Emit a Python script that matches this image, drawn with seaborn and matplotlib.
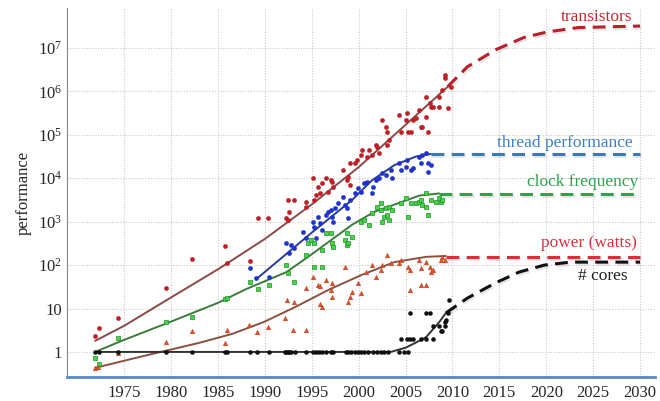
import numpy as np
import pandas as pd
import matplotlib
matplotlib.use('Agg')
import matplotlib.pyplot as plt
import matplotlib.patheffects as pe
from matplotlib.ticker import FixedLocator, FixedFormatter, LogLocator, NullFormatter
import seaborn as sns

# transistors (red dots)
tr_year = [1971.9, 1972.3, 1974.3, 1979.5, 1982.2, 1985.7, 1986.0, 1988.4, 1989.3, 1990.3,
           1992.2, 1992.5, 1992.6, 1992.5, 1993.1, 1994.4, 1994.4, 1995.1, 1995.2, 1995.4,
           1995.7, 1995.9, 1996.1, 1996.5, 1996.7, 1997.0, 1997.2, 1997.3, 1998.3, 1998.8,
           1998.9, 1999.1, 1999.1, 1999.6, 1999.8, 2000.3, 2000.4, 2000.9, 2001.1, 2001.4,
           2001.9, 2002.0, 2002.2, 2002.5, 2002.9, 2003.0, 2003.2, 2003.0, 2004.3, 2004.5,
           2005.0, 2005.1, 2005.3, 2005.6, 2005.8, 2006.1, 2006.4, 2006.6, 2006.7, 2007.2,
           2007.2, 2007.4, 2007.6, 2007.7, 2007.9, 2008.6, 2008.6, 2008.9, 2009.2, 2009.2,
           2009.5, 2009.8]
tr_val = [2.3, 3.5, 6, 30, 140, 275, 112, 126, 1230, 1230,
          1230, 1100, 1700, 3200, 3200, 2900, 2200, 10200, 3200, 4200,
          6300, 4600, 7800, 10200, 4900, 9100, 8300, 6300, 15500, 9100,
          10700, 7100, 22400, 22400, 26300, 34700, 44700, 30900, 44700, 34700,
          58900, 52500, 38900, 224000, 151000, 117000, 75900, 58900, 288000, 117000,
          224000, 324000, 117000, 117000, 224000, 245000, 380000, 151000, 151000, 759000,
          257000, 117000, 550000, 447000, 447000, 447000, 759000, 1100000, 2000000, 2400000,
          417000, 1290000]
tr_fit_year = [1971.9, 1975, 1980, 1985, 1990, 1995, 2000, 2005, 2009.7]
tr_fit_val = [1.8, 4, 18, 80, 400, 2500, 18000, 170000, 1400000]
tr_proj_year = [2009.5, 2011.6, 2014.6, 2017.6, 2020.1, 2023.4, 2030]
tr_proj_val = [1.3e6, 3.7e6, 9.1e6, 1.74e7, 2.34e7, 2.95e7, 3.2e7]

# single thread performance (blue dots)
th_year = [1988.4, 1989.1, 1990.4, 1992.3, 1992.6, 1992.8, 1993.1, 1994.1, 1994.4, 1995.1,
           1995.2, 1995.4, 1995.7, 1995.9, 1996.1, 1996.5, 1996.7, 1997.0, 1997.2, 1997.3,
           1997.5, 1997.8, 1998.3, 1998.5, 1998.8, 1998.9, 1999.1, 1999.6, 1999.9, 2000.3,
           2000.6, 2000.9, 2001.4, 2001.5, 2001.9, 2002.2, 2002.5, 2002.9, 2003.4, 2003.5,
           2004.3, 2004.5, 2005.0, 2005.1, 2005.6, 2005.8, 2006.4, 2006.6, 2006.7, 2007.2,
           2007.4, 2007.4, 2007.7]
th_val = [87, 50, 54, 324, 190, 295, 251, 589, 427, 1000,
          759, 427, 1290, 933, 646, 1445, 1700, 1860, 1290, 1000,
          2090, 2690, 3720, 2400, 2090, 1230, 3160, 4570, 6030, 4900,
          7760, 8300, 4570, 6310, 9120, 10200, 13200, 12000, 15500, 10200,
          22400, 15500, 18200, 26300, 15500, 17400, 30900, 22400, 34700, 38900,
          22400, 14100, 20400]
th_fit_year = [1989.2, 1992, 1995, 1999.3, 2001.4, 2003.8, 2006.1, 2007.7]
th_fit_val = [50, 160, 560, 3160, 8900, 20000, 31600, 36300]
th_proj_year = [2007.7, 2030]
th_proj_val = [36300, 36300]

# clock frequency (green squares)
cf_year = [1971.9, 1972.3, 1974.3, 1979.5, 1982.2, 1985.7, 1986.0, 1988.4, 1989.3, 1990.4,
           1992.3, 1992.5, 1993.1, 1994.4, 1994.6, 1994.9, 1995.2, 1995.2, 1996.1, 1996.1,
           1996.5, 1997.0, 1997.2, 1997.3, 1998.5, 1998.8, 1998.8, 1998.9, 1999.3, 2000.3,
           2000.6, 2001.1, 2001.4, 2002.0, 2002.4, 2002.4, 2002.5, 2002.7, 2002.9, 2003.0,
           2003.2, 2003.2, 2003.5, 2004.5, 2005.0, 2005.3, 2005.6, 2006.1, 2006.4, 2006.6,
           2006.7, 2007.2, 2007.2, 2007.4, 2007.7, 2008.2, 2008.6, 2008.8, 2008.9]
cf_val = [0.73, 0.53, 2.1, 4.9, 6.4, 16.6, 17, 41, 28, 35,
          100, 66, 41, 170, 324, 380, 91, 324, 91, 224,
          550, 550, 324, 263, 380, 550, 295, 324, 447, 1000,
          1100, 850, 1590, 2190, 2690, 1860, 1000, 1290, 2090, 1440,
          2190, 1100, 1860, 2690, 3550, 1290, 2690, 2690, 2880, 3160,
          2450, 4570, 2190, 1440, 3160, 2880, 3550, 2880, 3160]
cf_fit_year = [1971.9, 1975, 1980, 1985, 1988, 1992.3, 1995, 1999.3, 2001.7, 2004.5, 2006.5, 2008.6]
cf_fit_val = [1.0, 1.9, 5.0, 13.5, 28, 69, 178, 850, 1700, 2800, 4000, 4470]
cf_proj_year = [2008.6, 2030]
cf_proj_val = [4400, 4400]

# power in watts (orange triangles)
pw_year = [1971.9, 1972.2, 1974.3, 1979.5, 1982.2, 1985.7, 1986.0, 1988.3, 1989.2, 1990.3,
           1992.1, 1993.0, 1994.4, 1992.4, 1993.1, 1994.4, 1995.1, 1995.7, 1995.9, 1996.5,
           1996.1, 1995.9, 1997.0, 1997.2, 1997.2, 1998.5, 1999.1, 1998.9, 1999.3, 1999.9,
           2000.3, 2000.8, 2001.4, 2001.9, 2002.4, 2002.5, 2003.0, 2003.4, 2004.3, 2004.5,
           2005.5, 2005.5, 2005.3, 2006.4, 2006.6, 2006.6, 2007.2, 2007.2, 2007.6, 2007.7,
           2007.9, 2008.8, 2008.9, 2009.2]
pw_val = [0.43, 0.45, 0.95, 1.7, 3.0, 1.6, 3.2, 4.2, 2.9, 3.8,
          6.0, 3.2, 3.2, 16, 14, 30, 54, 35, 33, 46,
          11, 13, 27, 18.5, 39, 91, 18.5, 14, 24, 39,
          23, 69, 100, 54, 78, 100, 170, 112, 112, 132,
          78, 27, 91, 132, 87, 35, 35, 120, 91, 69,
          78, 132, 155, 132]
pw_fit_year = [1971.9, 1977, 1982.9, 1986.5, 1989.9, 1993.3, 1996.8, 2000.3, 2003.8, 2007.2, 2009.3]
pw_fit_val = [0.43, 0.8, 1.6, 2.6, 4.9, 11, 27, 59, 117, 155, 162]
pw_proj_year = [2009.3, 2030]
pw_proj_val = [155, 155]

# number of cores (black dots)
co_year = [1971.9, 1972.3, 1974.3, 1979.5, 1982.2, 1985.7, 1986.0, 1988.4, 1989.2, 1990.4,
           1992.1, 1992.3, 1992.5, 1992.6, 1992.8, 1993.2, 1994.4, 1995.1, 1995.4, 1995.8,
           1996.1, 1996.5, 1997.0, 1997.3, 1998.7, 1998.9, 1999.2, 1999.6, 1999.9, 2000.3,
           2000.6, 2001.0, 2001.5, 2002.0, 2002.4, 2002.7, 2003.1, 2004.3, 2004.8, 2005.3,
           2004.5, 2005.1, 2005.5, 2005.8, 2006.6, 2007.2, 2007.9, 2005.5, 2007.2, 2007.6,
           2007.9, 2008.6, 2008.8, 2008.9, 2009.2, 2009.2, 2009.3, 2009.5, 2009.6]
co_val = [1, 1, 1, 1, 1, 1, 1, 1, 1, 1,
          1, 1, 1, 1, 1, 1, 1, 1, 1, 1,
          1, 1, 1, 1, 1, 1, 1, 1, 1, 1,
          1, 1, 1, 1, 1, 1, 1, 1, 1, 1,
          2, 2, 2, 2, 2, 2, 2, 8, 8, 8,
          4, 4, 3, 3, 4, 5, 5.5, 8, 16]
co_fit_year = [1971.9, 2003.4, 2005, 2006, 2007.2, 2008.6, 2009.3]
co_fit_val = [1, 1, 1.25, 1.6, 2.2, 4.9, 7.9]
co_proj_year = [2009.3, 2011.6, 2014.6, 2017.1, 2019.8, 2022.6, 2030]
co_proj_val = [7.9, 17.4, 39, 69, 100, 117, 117]

x_ticks = [1975, 1980, 1985, 1990, 1995, 2000, 2005, 2010, 2015, 2020, 2025, 2030]
y_ticks = [1, 10, 1e2, 1e3, 1e4, 1e5, 1e6, 1e7]
y_labels = ['1', '10', '$10^2$', '$10^3$', '$10^4$', '$10^5$', '$10^6$', '$10^7$']

sns.set_style('white')
plt.rcParams['font.family'] = ['Liberation Serif', 'DejaVu Serif']
plt.rcParams['mathtext.fontset'] = 'custom'
plt.rcParams['mathtext.rm'] = 'Liberation Serif'
plt.rcParams['mathtext.it'] = 'Liberation Serif:italic'

fig = plt.figure(figsize=(6.6, 4.01), dpi=100)
ax = fig.add_axes([0.1015, 0.06, 0.891, 0.92])
ax.set_yscale('log')

shadow = [pe.SimpleLineShadow(offset=(1, -1.5), alpha=0.18, shadow_color='gray'), pe.Normal()]

# fitted trends
sns.lineplot(x=tr_fit_year, y=tr_fit_val, ax=ax, color='#8a4848', lw=1.4)
sns.lineplot(x=th_fit_year, y=th_fit_val, ax=ax, color='#2a3a9c', lw=1.4)
sns.lineplot(x=cf_fit_year, y=cf_fit_val, ax=ax, color='#3c7a3c', lw=1.4)
sns.lineplot(x=pw_fit_year, y=pw_fit_val, ax=ax, color='#8a5040', lw=1.4)
sns.lineplot(x=co_fit_year, y=co_fit_val, ax=ax, color='#333333', lw=1.4)

# projections
for yy, vv, col in [(tr_proj_year, tr_proj_val, '#b8202a'),
                    (th_proj_year, th_proj_val, '#3d78b8'),
                    (cf_proj_year, cf_proj_val, '#2ba44a'),
                    (pw_proj_year, pw_proj_val, '#d92f35'),
                    (co_proj_year, co_proj_val, '#111111')]:
    l = sns.lineplot(x=yy, y=vv, ax=ax, color=col, lw=2.2)
    l.lines[-1].set_dashes([4.2, 2.4])
    l.lines[-1].set_path_effects(shadow)

# data points
sns.scatterplot(x=tr_year, y=tr_val, ax=ax, color='#c41e24', marker='o', s=10,
                edgecolor='#a01a1a', linewidth=0.2, zorder=3)
sns.scatterplot(x=th_year, y=th_val, ax=ax, color='#1c34d4', marker='o', s=10,
                edgecolor='#1526a0', linewidth=0.2, zorder=3)
sns.scatterplot(x=cf_year, y=cf_val, ax=ax, color='#44d444', marker='s', s=11,
                edgecolor='#1f8f2a', linewidth=0.5, zorder=3)
sns.scatterplot(x=pw_year, y=pw_val, ax=ax, color='#d8502a', marker='^', s=12,
                edgecolor='#b03a1a', linewidth=0.2, zorder=3)
sns.scatterplot(x=co_year, y=co_val, ax=ax, color='#111111', marker='o', s=9,
                edgecolor='#000000', linewidth=0.2, zorder=3)

# series labels
ax.text(2025.4, 5.1e7, 'transistors', color='#c0282d', fontsize=12.5, ha='center', va='center')
ax.text(2022.0, 6.4e4, 'thread performance', color='#3b7fc4', fontsize=12.5, ha='center', va='center')
ax.text(2023.9, 8.3e3, 'clock frequency', color='#2ca34a', fontsize=12.5, ha='center', va='center')
ax.text(2024.5, 324, 'power (watts)', color='#d6303a', fontsize=12.5, ha='center', va='center')
ax.text(2026.0, 56, '# cores', color='#222222', fontsize=12.5, ha='center', va='center')

ax.set_xlim(1968.9, 2031.6)
ax.set_ylim(10 ** -0.576, 10 ** 7.92)
ax.set_xticks(x_ticks)
ax.set_xticklabels([str(t) for t in x_ticks], fontsize=12)
ax.yaxis.set_major_locator(FixedLocator(y_ticks))
ax.yaxis.set_major_formatter(FixedFormatter(y_labels))
ax.yaxis.set_minor_locator(LogLocator(base=10, subs=np.arange(2, 10) * 1.0, numticks=20))
ax.yaxis.set_minor_formatter(NullFormatter())
ax.tick_params(axis='y', which='major', direction='in', length=4, color='#777777', labelsize=12)
ax.tick_params(axis='y', which='minor', direction='in', length=2, color='#999999')
ax.tick_params(axis='x', which='both', length=0, labelsize=12, pad=6)

ax.grid(True, which='major', linestyle=(0, (1, 1.5)), color='#c8c8c8', lw=0.8)
for s in ['top', 'right']:
    ax.spines[s].set_visible(False)
ax.spines['left'].set_color('#888888')
ax.spines['bottom'].set_color('#5a8ac6')
ax.spines['bottom'].set_linewidth(2)

ax.set_ylabel('performance', fontsize=12, labelpad=4)

plt.savefig('out.png', dpi=100)
